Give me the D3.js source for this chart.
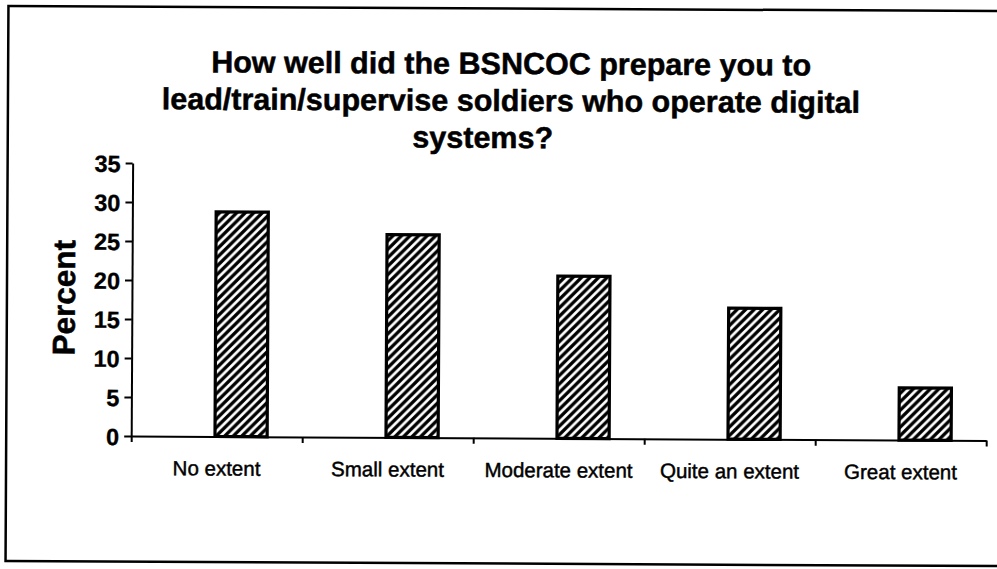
<!DOCTYPE html>
<html>
<head>
<meta charset="utf-8">
<script src="https://cdn.jsdelivr.net/npm/d3@7"></script>
<style>
  html, body { margin: 0; padding: 0; background: #fff; }
  svg { display: block; }
</style>
</head>
<body>
<svg id="chart" width="997" height="569"></svg>
<script>
const categories = ["No extent", "Small extent", "Moderate extent", "Quite an extent", "Great extent"];
const values = [28.8, 26.0, 20.8, 16.8, 6.7];
const yTicks = [0, 5, 10, 15, 20, 25, 30, 35];
const titleLines = ["How well did the BSNCOC prepare you to", "lead/train/supervise soldiers who operate digital", "systems?"];
const yLabel = "Percent";

const svg = d3.select("#chart");
const font = "'Liberation Sans', Arial, Helvetica, sans-serif";

const defs = svg.append("defs");
const P = 8.5;
const pat = defs.append("pattern").attr("id", "hatch")
  .attr("patternUnits", "userSpaceOnUse").attr("width", P).attr("height", P);
pat.append("rect").attr("width", P).attr("height", P).attr("fill", "#fff");
pat.append("path").attr("d", `M-2,2 l4,-4 M0,${P} l${P},-${P} M${P - 2},${P + 2} l4,-4`)
  .attr("stroke", "#000").attr("stroke-width", 3.3);

const g = svg.append("g").attr("transform", "rotate(0.3,500,285)");

// outer frame
g.append("rect").attr("x", 7).attr("y", 8.5).attr("width", 1010).attr("height", 555)
  .attr("fill", "none").attr("stroke", "#000").attr("stroke-width", 2.5);

const left = 132, right = 987;
const x = d3.scaleBand().domain(categories).range([left, right]).paddingInner(0).paddingOuter(0);
const y = d3.scaleLinear().domain([0, 35]).range([438, 165]);
const xb = d3.scaleLinear().domain([0, categories.length]).range([left, right]);

// title
g.append("g").selectAll("text").data(titleLines).join("text")
  .attr("x", (d, i) => i === 2 ? 482 : 510)
  .attr("y", (d, i) => 74 + i * 37)
  .attr("text-anchor", "middle")
  .attr("font-family", font).attr("font-weight", "bold").attr("font-size", 30.5)
  .attr("fill", "#000").attr("stroke", "#000").attr("stroke-width", 0.5)
  .text(d => d);

// y axis
const yAxis = g.append("g").attr("transform", `translate(${left},0)`)
  .call(d3.axisLeft(y).tickValues(yTicks).tickSize(7).tickSizeOuter(0).tickPadding(5));
yAxis.select(".domain").attr("stroke", "#000").attr("stroke-width", 2);
yAxis.selectAll(".tick line").attr("stroke", "#000").attr("stroke-width", 2);
yAxis.selectAll(".tick text").attr("font-family", font).attr("font-weight", "bold")
  .attr("font-size", 23.5).attr("fill", "#000").attr("stroke", "#000").attr("stroke-width", 0.3)
  .attr("dy", "0.36em");

// x axis
const xAxis = g.append("g").attr("transform", `translate(0,${y(0)})`)
  .call(d3.axisBottom(xb).ticks(categories.length).tickFormat("").tickSize(6).tickSizeOuter(0));
xAxis.select(".domain").attr("stroke", "#000").attr("stroke-width", 2);
xAxis.selectAll(".tick line").attr("stroke", "#000").attr("stroke-width", 2);

// bars
const bw = x.bandwidth();
g.append("g").selectAll("rect").data(values).join("rect")
  .attr("x", (d, i) => x(categories[i]) + bw * 0.49)
  .attr("width", bw * 0.305)
  .attr("y", d => y(d))
  .attr("height", d => y(0) - y(d))
  .attr("fill", "url(#hatch)")
  .attr("stroke", "#000").attr("stroke-width", 3.2);

// category labels
g.append("g").selectAll("text").data(categories).join("text")
  .attr("x", d => x(d) + bw / 2)
  .attr("y", 477)
  .attr("text-anchor", "middle")
  .attr("font-family", font).attr("font-size", 20.5)
  .attr("fill", "#000").attr("stroke", "#000").attr("stroke-width", 0.45)
  .text(d => d);

// y label
g.append("text")
  .attr("transform", "translate(75,300) rotate(-90)")
  .attr("text-anchor", "middle")
  .attr("font-family", font).attr("font-weight", "bold").attr("font-size", 31.5)
  .attr("fill", "#000").attr("stroke", "#000").attr("stroke-width", 0.5)
  .text(yLabel);
</script>
</body>
</html>
